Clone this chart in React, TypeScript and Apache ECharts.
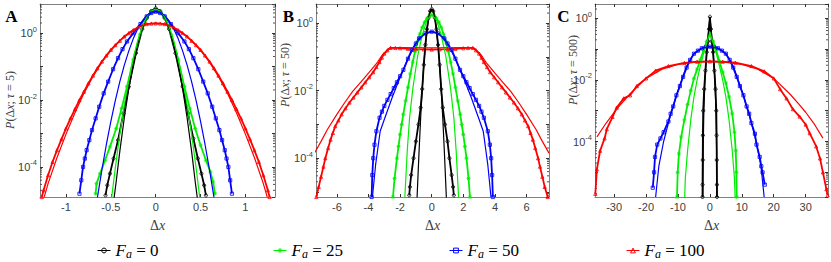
import React, { useEffect, useRef } from 'react';
import * as echarts from 'echarts';

type Pt = [number, number];

// ---------- names, colours ----------
const curveNames = ['F_a = 0', 'F_a = 25', 'F_a = 50', 'F_a = 100'];
const curveLabels = ['0', '25', '50', '100'];
const curveColors = ['#000000', '#00ee00', '#0000ff', '#ff0000'];
const curveSymbols = [
  'circle',
  'path://M5,0V10M0,5H10M1.5,1.5L8.5,8.5M8.5,1.5L1.5,8.5',
  'rect',
  'triangle',
];

// ---------- panel axes ----------
const panelLetters = ['A', 'B', 'C'];
const panelTau = ['5', '50', '500'];
const panelXMin = [-1.29, -7.32, -36];
const panelXMax = [1.33, 7.42, 37];
const panelXSplit = [5, 7, 7];
const panelYMin = [1.26e-5, 7.08e-6, 1.58e-6];
const panelYMax = [7.41, 3.72, 2.91];

// ---------- Panel A (tau = 5) ----------
const A_data0: Pt[] = [[-0.56,1.41e-5],[-0.54,2.82e-5],[-0.51,6.31e-5],[-0.47,1.78e-4],[-0.42,6.31e-4],[-0.36,3.98e-3],[-0.3,2.51e-2],[-0.22,0.251],[-0.15,1.32],[-0.1,2.82],[-0.05,4.57],[0,5.5],[0.05,4.57],[0.1,2.82],[0.15,1.32],[0.22,0.251],[0.3,2.51e-2],[0.36,3.98e-3],[0.42,7.08e-4],[0.47,1.78e-4],[0.51,6.31e-5],[0.54,2.82e-5],[0.56,1.41e-5]];
const A_data1: Pt[] = [[-0.67,1.58e-5],[-0.66,3.16e-5],[-0.62,6.31e-5],[-0.565,1.58e-4],[-0.51,3.98e-4],[-0.44,1.41e-3],[-0.38,5.62e-3],[-0.32,2.51e-2],[-0.25,0.158],[-0.175,0.891],[-0.1,2.82],[-0.05,4.47],[0,5.25],[0.05,4.47],[0.1,2.82],[0.175,0.891],[0.25,0.158],[0.32,2.51e-2],[0.38,5.62e-3],[0.44,1.41e-3],[0.5,4.47e-4],[0.56,1.58e-4],[0.61,7.08e-5],[0.64,3.55e-5],[0.66,1.58e-5]];
const A_data2: Pt[] = [[-0.85,1.58e-5],[-0.83,3.98e-5],[-0.81,1.0e-4],[-0.79,1.78e-4],[-0.77,3.16e-4],[-0.74,6.31e-4],[-0.71,1.26e-3],[-0.67,2.82e-3],[-0.63,6.31e-3],[-0.58,1.58e-2],[-0.53,3.55e-2],[-0.475,8.32e-2],[-0.42,0.178],[-0.37,0.331],[-0.32,0.562],[-0.25,1.0],[-0.17,1.86],[-0.1,3.16],[-0.05,3.98],[0,4.37],[0.05,3.98],[0.1,3.16],[0.17,1.86],[0.25,1.0],[0.32,0.562],[0.37,0.331],[0.42,0.178],[0.475,8.32e-2],[0.53,3.55e-2],[0.58,1.58e-2],[0.63,6.31e-3],[0.67,2.82e-3],[0.71,1.26e-3],[0.74,6.31e-4],[0.77,3.16e-4],[0.79,1.78e-4],[0.81,1.0e-4],[0.83,3.98e-5],[0.85,1.58e-5]];
const A_data3: Pt[] = [[-1.27,1.26e-5],[-1.25,2.0e-5],[-1.2,5.62e-5],[-1.15,1.41e-4],[-1.1,3.16e-4],[-1.05,6.76e-4],[-1.0,1.41e-3],[-0.95,2.82e-3],[-0.9,5.37e-3],[-0.85,1.0e-2],[-0.8,1.78e-2],[-0.75,3.16e-2],[-0.7,5.37e-2],[-0.65,8.91e-2],[-0.6,0.141],[-0.55,0.214],[-0.5,0.316],[-0.45,0.437],[-0.4,0.589],[-0.35,0.794],[-0.3,1.0],[-0.25,1.23],[-0.2,1.48],[-0.15,1.70],[-0.1,1.86],[-0.05,1.93],[0,1.95],[0.05,1.93],[0.1,1.86],[0.15,1.70],[0.2,1.48],[0.25,1.23],[0.3,1.0],[0.35,0.794],[0.4,0.589],[0.45,0.437],[0.5,0.316],[0.55,0.214],[0.6,0.141],[0.65,8.91e-2],[0.7,5.37e-2],[0.75,3.16e-2],[0.8,1.78e-2],[0.85,1.0e-2],[0.9,5.37e-3],[0.95,2.82e-3],[1.0,1.41e-3],[1.05,6.76e-4],[1.1,3.16e-4],[1.15,1.41e-4],[1.2,5.62e-5],[1.25,2.0e-5],[1.27,1.26e-5]];
const A_fit0: Pt[] = [[-0.465,1.12e-5],[-0.44,3.72e-5],[-0.4,2.95e-4],[-0.35,2.95e-3],[-0.3,2.19e-2],[-0.25,0.117],[-0.2,0.468],[-0.15,1.38],[-0.1,2.95],[-0.05,4.68],[0,5.5],[0.05,4.68],[0.1,2.95],[0.15,1.38],[0.2,0.468],[0.25,0.117],[0.3,2.19e-2],[0.35,2.95e-3],[0.4,2.95e-4],[0.44,3.72e-5],[0.465,1.12e-5]];
const A_fit1: Pt[] = [[-0.495,1.0e-5],[-0.45,9.55e-5],[-0.4,9.55e-4],[-0.35,7.08e-3],[-0.3,4.07e-2],[-0.25,0.182],[-0.2,0.603],[-0.15,1.55],[-0.1,3.09],[-0.05,4.57],[0,5.25],[0.05,4.57],[0.1,3.09],[0.15,1.55],[0.2,0.603],[0.25,0.182],[0.3,4.07e-2],[0.35,7.08e-3],[0.4,9.55e-4],[0.45,9.55e-5],[0.495,1.0e-5]];
const A_fit2: Pt[] = [[-0.65,1.2e-5],[-0.6,8.13e-5],[-0.55,4.68e-4],[-0.5,2.29e-3],[-0.45,9.77e-3],[-0.4,3.55e-2],[-0.35,0.110],[-0.3,0.295],[-0.25,0.684],[-0.2,1.35],[-0.15,2.31],[-0.1,3.39],[-0.05,4.24],[0,4.57],[0.05,4.24],[0.1,3.39],[0.15,2.31],[0.2,1.35],[0.25,0.684],[0.3,0.295],[0.35,0.110],[0.4,3.55e-2],[0.45,9.77e-3],[0.5,2.29e-3],[0.55,4.68e-4],[0.6,8.13e-5],[0.65,1.2e-5]];
const A_fit3: Pt[] = [[-1.245,1.2e-5],[-1.2,3.16e-5],[-1.1,1.91e-4],[-1.0,9.55e-4],[-0.9,4.17e-3],[-0.8,1.58e-2],[-0.7,5.01e-2],[-0.6,0.135],[-0.5,0.302],[-0.4,0.603],[-0.3,0.977],[-0.2,1.48],[-0.1,1.86],[0,2.0],[0.1,1.86],[0.2,1.48],[0.3,0.977],[0.4,0.603],[0.5,0.302],[0.6,0.135],[0.7,5.01e-2],[0.8,1.58e-2],[0.9,4.17e-3],[1.0,9.55e-4],[1.1,1.91e-4],[1.2,3.16e-5],[1.245,1.2e-5]];

// ---------- Panel B (tau = 50) ----------
const B_data0: Pt[] = [[-1.42,7.94e-6],[-1.38,1.41e-5],[-1.3,3.16e-5],[-1.15,1.0e-4],[-1.0,3.16e-4],[-0.84,1.0e-3],[-0.7,3.16e-3],[-0.6,1.12e-2],[-0.5,5.89e-2],[-0.4,0.229],[-0.3,0.661],[-0.2,1.45],[-0.1,2.29],[0,2.63],[0.1,2.29],[0.2,1.45],[0.3,0.661],[0.4,0.229],[0.5,5.89e-2],[0.6,1.12e-2],[0.7,3.16e-3],[0.84,1.0e-3],[1.0,3.16e-4],[1.12,1.0e-4],[1.26,3.16e-5],[1.35,1.41e-5],[1.4,7.94e-6]];
const B_data1: Pt[] = [[-2.45,7.08e-6],[-2.35,2.51e-5],[-2.2,1.0e-4],[-2.1,2.24e-4],[-2.0,5.01e-4],[-1.9,1.0e-3],[-1.8,2.0e-3],[-1.65,5.01e-3],[-1.5,1.26e-2],[-1.35,3.16e-2],[-1.2,7.08e-2],[-1.05,0.148],[-0.9,0.282],[-0.75,0.479],[-0.6,0.759],[-0.45,1.07],[-0.3,1.41],[-0.15,1.66],[0,1.78],[0.15,1.66],[0.3,1.41],[0.45,1.07],[0.6,0.759],[0.75,0.479],[0.9,0.282],[1.05,0.148],[1.2,7.08e-2],[1.35,3.16e-2],[1.5,1.26e-2],[1.65,5.01e-3],[1.8,2.0e-3],[1.9,1.0e-3],[2.0,5.01e-4],[2.1,2.24e-4],[2.2,1.0e-4],[2.33,2.51e-5],[2.42,7.08e-6]];
const B_data2: Pt[] = [[-3.8,7.08e-6],[-3.76,3.16e-5],[-3.7,1.0e-4],[-3.62,2.51e-4],[-3.5,6.31e-4],[-3.3,1.58e-3],[-3.15,2.4e-3],[-3.0,3.55e-3],[-2.8,5.37e-3],[-2.6,7.94e-3],[-2.4,1.2e-2],[-2.2,1.78e-2],[-2.0,2.69e-2],[-1.79,4.17e-2],[-1.5,8.91e-2],[-1.26,0.162],[-1.0,0.251],[-0.8,0.355],[-0.4,0.501],[0,0.562],[0.4,0.501],[0.8,0.355],[1.0,0.251],[1.26,0.162],[1.5,8.91e-2],[1.79,4.17e-2],[2.0,2.69e-2],[2.2,1.78e-2],[2.4,1.2e-2],[2.6,7.94e-3],[2.8,5.37e-3],[3.0,3.55e-3],[3.15,2.4e-3],[3.3,1.58e-3],[3.55,6.31e-4],[3.68,2.51e-4],[3.76,1.0e-4],[3.82,3.16e-5],[3.87,7.08e-6]];
const B_data3: Pt[] = [[-7.3,7.08e-6],[-7.15,1.41e-5],[-7.0,2.82e-5],[-6.85,5.62e-5],[-6.73,1.0e-4],[-6.55,2.0e-4],[-6.4,3.55e-4],[-6.25,5.62e-4],[-6.1,8.91e-4],[-5.9,1.32e-3],[-5.7,2.0e-3],[-5.45,3.02e-3],[-5.2,4.47e-3],[-4.95,6.31e-3],[-4.7,8.91e-3],[-4.45,1.26e-2],[-4.2,1.78e-2],[-3.95,2.51e-2],[-3.7,3.55e-2],[-3.5,5.01e-2],[-3.3,7.08e-2],[-3.15,9.55e-2],[-3.0,0.126],[-2.8,0.158],[-2.6,0.186],[-2.3,0.185],[-2.0,0.182],[-1.5,0.175],[-1.0,0.170],[-0.5,0.168],[0,0.166],[0.5,0.168],[1.0,0.170],[1.5,0.175],[2.0,0.182],[2.3,0.185],[2.6,0.186],[2.8,0.158],[3.0,0.126],[3.15,9.55e-2],[3.3,7.08e-2],[3.5,5.01e-2],[3.7,3.55e-2],[3.95,2.51e-2],[4.2,1.78e-2],[4.45,1.26e-2],[4.7,8.91e-3],[4.95,6.31e-3],[5.2,4.47e-3],[5.45,3.02e-3],[5.7,2.0e-3],[5.9,1.32e-3],[6.1,8.91e-4],[6.25,5.62e-4],[6.4,3.55e-4],[6.55,2.0e-4],[6.73,1.0e-4],[6.85,5.62e-5],[7.0,2.82e-5],[7.15,1.41e-5],[7.34,7.08e-6]];
const B_fit0: Pt[] = [[-0.93,6.31e-6],[-0.8,1.58e-4],[-0.7,1.55e-3],[-0.6,1.10e-2],[-0.5,5.89e-2],[-0.4,0.229],[-0.3,0.67],[-0.2,1.45],[-0.1,2.26],[0,2.63],[0.1,2.26],[0.2,1.45],[0.3,0.67],[0.4,0.229],[0.5,5.89e-2],[0.6,1.10e-2],[0.7,1.55e-3],[0.8,1.58e-4],[0.93,6.31e-6]];
const B_fit1: Pt[] = [[-1.7,6.92e-6],[-1.55,1.58e-4],[-1.4,1.58e-3],[-1.2,1.12e-2],[-0.9,0.1],[-0.6,0.447],[-0.3,1.26],[0,1.78],[0.3,1.26],[0.6,0.447],[0.9,0.1],[1.2,1.12e-2],[1.4,1.58e-3],[1.55,1.58e-4],[1.7,6.92e-6]];
const B_fit2: Pt[] = [[-3.75,7.08e-6],[-3.55,6.31e-5],[-3.26,6.31e-4],[-3.0,1.41e-3],[-2.5,6.31e-3],[-2.0,2.51e-2],[-1.5,8.91e-2],[-1.0,0.251],[-0.5,0.468],[0,0.575],[0.5,0.468],[1.0,0.251],[1.5,8.91e-2],[2.0,2.51e-2],[2.5,6.31e-3],[3.0,1.41e-3],[3.26,6.31e-4],[3.55,6.31e-5],[3.75,7.08e-6]];
const B_fit3: Pt[] = [[-7.42,1.41e-4],[-7.0,3.16e-4],[-6.6,7.08e-4],[-6.0,2.0e-3],[-5.5,4.47e-3],[-5.0,9.55e-3],[-4.5,1.78e-2],[-4.0,3.31e-2],[-3.5,6.31e-2],[-3.1,0.120],[-2.7,0.182],[-2.0,0.191],[0,0.186],[2.0,0.191],[2.7,0.182],[3.1,0.120],[3.5,6.31e-2],[4.0,3.31e-2],[4.5,1.78e-2],[5.0,9.55e-3],[5.5,4.47e-3],[6.0,2.0e-3],[6.6,7.08e-4],[7.0,3.16e-4],[7.42,1.41e-4]];

// ---------- Panel C (tau = 500) ----------
const C_data0: Pt[] = [[-2.32,1.58e-6],[-2.3,3.98e-6],[-2.25,2.51e-5],[-2.2,1.58e-4],[-2.1,1.0e-3],[-1.8,5.01e-3],[-1.4,2.0e-2],[-1.0,7.94e-2],[-0.6,0.178],[-0.3,0.447],[0,1.12],[0.3,0.447],[0.6,0.178],[1.0,7.94e-2],[1.4,2.0e-2],[1.75,5.01e-3],[2.0,1.0e-3],[2.1,1.58e-4],[2.15,2.51e-5],[2.2,3.98e-6],[2.22,1.58e-6]];
const C_data1: Pt[] = [[-10.3,1.58e-6],[-10.1,1.0e-5],[-9.7,3.98e-5],[-9.0,1.41e-4],[-8.0,5.01e-4],[-7.0,1.58e-3],[-6.0,4.47e-3],[-5.0,1.12e-2],[-4.0,2.24e-2],[-3.0,4.47e-2],[-2.0,8.91e-2],[-1.0,0.178],[0,0.324],[1.0,0.178],[2.0,8.91e-2],[3.0,3.98e-2],[4.0,1.78e-2],[5.0,7.94e-3],[6.0,2.82e-3],[7.0,7.94e-4],[7.7,2.0e-4],[8.1,5.01e-5],[8.3,1.0e-5],[8.4,1.58e-6]];
const C_data2: Pt[] = [[-17.9,3.16e-6],[-17.5,1.0e-5],[-17.2,3.16e-5],[-16.5,7.94e-5],[-15.5,1.26e-4],[-14.5,2.0e-4],[-13.0,4.47e-4],[-12.3,7.94e-4],[-11.5,1.38e-3],[-10.5,3.16e-3],[-9.4,6.31e-3],[-8.4,1.26e-2],[-7.3,2.51e-2],[-6.2,4.47e-2],[-5.0,7.08e-2],[-3.75,8.91e-2],[-2.5,0.107],[-1.25,0.117],[0,0.120],[1.25,0.117],[2.5,0.107],[3.75,8.91e-2],[5.0,7.08e-2],[6.2,4.47e-2],[7.3,2.51e-2],[8.4,1.26e-2],[9.4,6.31e-3],[10.5,3.16e-3],[11.5,1.38e-3],[12.3,7.94e-4],[13.0,3.98e-4],[14.1,1.78e-4],[14.6,7.94e-5],[15.6,3.16e-5],[16.1,1.58e-5],[16.5,1.0e-5],[17.2,3.98e-6]];
const C_data3: Pt[] = [[-35.9,2.0e-6],[-35.4,1.26e-5],[-34.4,5.01e-5],[-33.0,1.26e-4],[-32.3,2.51e-4],[-30.5,6.31e-4],[-29.2,1.26e-3],[-27.0,2.51e-3],[-25.0,3.16e-3],[-22.9,6.31e-3],[-20.0,1.12e-2],[-17.0,2.0e-2],[-13.0,2.82e-2],[-8.0,3.55e-2],[-4.0,3.89e-2],[0,3.98e-2],[4.0,3.89e-2],[8.0,3.63e-2],[13.0,2.82e-2],[17.0,1.91e-2],[20.0,1.12e-2],[22.0,5.01e-3],[24.0,2.51e-3],[26.0,1.12e-3],[28.1,6.46e-4],[30.0,3.55e-4],[31.25,1.86e-4],[33.3,6.92e-5],[34.5,2.82e-5],[35.4,1.0e-5],[36.5,2.82e-6],[36.9,1.78e-6]];
const C_fit0: Pt[] = [[-2.2,1.58e-6],[-2.1,6.31e-5],[-1.9,1.0e-3],[-1.5,1.26e-2],[-1.0,7.94e-2],[-0.5,0.316],[0,1.07],[0.5,0.316],[1.0,7.94e-2],[1.5,1.26e-2],[1.9,1.0e-3],[2.1,6.31e-5],[2.2,1.58e-6]];
const C_fit1: Pt[] = [[-7.9,1.58e-6],[-7.7,6.31e-6],[-7.0,5.01e-5],[-6.0,5.01e-4],[-5.0,2.82e-3],[-4.0,1.0e-2],[-3.0,2.82e-2],[-2.0,7.08e-2],[-1.0,0.158],[0,0.339],[1.0,0.158],[2.0,7.08e-2],[3.0,2.82e-2],[4.0,1.0e-2],[5.0,2.82e-3],[6.0,5.01e-4],[7.0,5.01e-5],[7.7,6.31e-6],[7.9,1.58e-6]];
const C_fit2: Pt[] = [[-17.0,1.58e-6],[-16.0,1.58e-5],[-14.5,1.0e-4],[-12.5,6.31e-4],[-10.0,4.47e-3],[-7.5,2.51e-2],[-5.0,7.08e-2],[-2.5,0.107],[0,0.120],[2.5,0.107],[5.0,7.08e-2],[7.5,2.51e-2],[10.0,4.47e-3],[12.5,6.31e-4],[14.5,1.0e-4],[16.0,1.58e-5],[17.0,1.58e-6]];
const C_fit3: Pt[] = [[-35.4,1.41e-4],[-32.5,3.98e-4],[-30.0,8.91e-4],[-28.0,1.58e-3],[-25.0,3.55e-3],[-20.0,1.12e-2],[-15.0,2.24e-2],[-10.0,3.16e-2],[-5.0,3.72e-2],[0,3.98e-2],[5.0,3.72e-2],[10.0,3.16e-2],[15.0,2.24e-2],[20.0,1.12e-2],[25.0,3.55e-3],[28.0,1.58e-3],[30.0,8.91e-4],[32.5,3.98e-4],[35.4,1.29e-4]];

const panelData: Pt[][][] = [
  [A_data0, A_data1, A_data2, A_data3],
  [B_data0, B_data1, B_data2, B_data3],
  [C_data0, C_data1, C_data2, C_data3],
];
const panelFits: Pt[][][] = [
  [A_fit0, A_fit1, A_fit2, A_fit3],
  [B_fit0, B_fit1, B_fit2, B_fit3],
  [C_fit0, C_fit1, C_fit2, C_fit3],
];

// minor log ticks (mantissas x decades)
const minorMantissas = [2, 3, 4, 5, 6, 7, 8, 9];
const minorDecades = [1e-6, 1e-5, 1e-4, 1e-3, 1e-2, 1e-1, 1];

// ---------- layout ----------
const gridLeft = [40, 316, 595];
const gridWidth = [235, 233, 233];
const gridTop = 4;
const gridHeight = 193;
const yLabelPos: [number, number][] = [[10, 100], [285, 75], [573, 70]];
const letterPos: [number, number][] = [[11.5, 16], [288.5, 16], [563.5, 16]];
const legendLeft = [92, 268, 444, 621];

const BOX = '#808080';
const LABEL = '#404040';
const SERIF = 'serif';
const SANS = 'Arial';

export default function App() {
  const ref = useRef<HTMLDivElement>(null);

  useEffect(() => {
    document.body.style.margin = '0';
    if (!ref.current) return;
    const chart = echarts.init(ref.current, null, { renderer: 'svg' });

    const minorValues: number[] = [];
    minorDecades.forEach((d) => minorMantissas.forEach((m) => minorValues.push(m * d)));

    const grids: any[] = [];
    const xAxes: any[] = [];
    const yAxes: any[] = [];
    const series: any[] = [];
    const graphics: any[] = [];

    for (let p = 0; p < 3; p++) {
      grids.push({ left: gridLeft[p], top: gridTop, width: gridWidth[p], height: gridHeight });
      const xBase = {
        type: 'value',
        gridIndex: p,
        min: panelXMin[p],
        max: panelXMax[p],
        splitNumber: panelXSplit[p],
        splitLine: { show: false },
        axisLine: { show: true, onZero: false, lineStyle: { color: BOX, width: 1 } },
        axisTick: { show: true, inside: true, length: 3, lineStyle: { color: '#303030', width: 1 } },
      };
      xAxes.push({
        ...xBase,
        position: 'bottom',
        axisLabel: {
          show: true,
          margin: 4,
          color: LABEL,
          fontFamily: SANS,
          fontSize: 11,
          showMinLabel: false,
          showMaxLabel: false,
        },
        name: '{n|Δ}{i|x}',
        nameLocation: 'middle',
        nameGap: 21,
        nameTextStyle: {
          fontFamily: SERIF,
          fontSize: 14,
          color: LABEL,
          rich: {
            n: { fontFamily: SERIF, fontSize: 14, color: LABEL },
            i: { fontFamily: SERIF, fontSize: 14, fontStyle: 'italic', color: LABEL },
          },
        },
      });
      xAxes.push({ ...xBase, position: 'top', axisLabel: { show: false } });

      const yBase = {
        type: 'log',
        logBase: 10,
        gridIndex: p,
        min: panelYMin[p],
        max: panelYMax[p],
        splitLine: { show: false },
        axisLine: { show: true, onZero: false, lineStyle: { color: BOX, width: 1 } },
        axisTick: { show: true, inside: true, length: 3, lineStyle: { color: '#303030', width: 1 } },
      };
      yAxes.push({
        ...yBase,
        position: 'left',
        axisLabel: {
          show: true,
          margin: 3,
          showMinLabel: false,
          showMaxLabel: false,
          formatter: (v: number) => {
            const lg = Math.log10(v);
            const e = Math.round(lg);
            if (Math.abs(lg - e) > 1e-6 || e % 2 !== 0) return '';
            return `{b|10}{e|${e}}`;
          },
          rich: {
            b: { fontFamily: SANS, fontSize: 11, color: LABEL },
            e: { fontFamily: SANS, fontSize: 7.5, color: LABEL, padding: [0, 0, 8, 0] },
          },
        },
      });
      yAxes.push({ ...yBase, position: 'right', axisLabel: { show: false } });

      // data series
      for (let k = 0; k < 4; k++) {
        series.push({
          type: 'line',
          name: curveNames[k],
          xAxisIndex: 2 * p,
          yAxisIndex: 2 * p,
          data: panelData[p][k],
          symbol: curveSymbols[k],
          symbolSize: k === 1 ? 4 : 3.2,
          showSymbol: true,
          lineStyle: { color: curveColors[k], width: 1.8 },
          itemStyle: { color: 'rgba(255,255,255,0)', borderColor: curveColors[k], borderWidth: 0.8 },
          emphasis: { disabled: true },
          silent: true,
          z: 2,
        });
      }
      // fit series
      for (let k = 0; k < 4; k++) {
        series.push({
          type: 'line',
          name: 'fit ' + curveNames[k],
          xAxisIndex: 2 * p,
          yAxisIndex: 2 * p,
          data: panelFits[p][k],
          symbol: 'none',
          showSymbol: false,
          lineStyle: { color: curveColors[k], width: 1.2 },
          emphasis: { disabled: true },
          silent: true,
          z: 3,
        });
      }
      // minor log ticks
      const xmin = panelXMin[p];
      const xmax = panelXMax[p];
      const ymin = panelYMin[p];
      const ymax = panelYMax[p];
      series.push({
        type: 'custom',
        name: 'minor ticks ' + p,
        xAxisIndex: 2 * p,
        yAxisIndex: 2 * p,
        silent: true,
        z: 1,
        data: minorValues.map((v) => [xmin, v]),
        renderItem: (_params: any, api: any) => {
          const v = api.value(1);
          if (v < ymin || v > ymax) return null;
          const pl = api.coord([xmin, v]);
          const pr = api.coord([xmax, v]);
          return {
            type: 'group',
            children: [
              { type: 'line', shape: { x1: pl[0], y1: pl[1], x2: pl[0] + 2, y2: pl[1] }, style: { stroke: '#505050', lineWidth: 1 } },
              { type: 'line', shape: { x1: pr[0] - 2, y1: pr[1], x2: pr[0], y2: pr[1] }, style: { stroke: '#505050', lineWidth: 1 } },
            ],
          };
        },
      });

      graphics.push({
        type: 'text',
        x: yLabelPos[p][0],
        y: yLabelPos[p][1],
        rotation: Math.PI / 2,
        style: {
          text: `{i|P}{n|(Δ}{i|x}{n|; }{i|τ}{n| = ${panelTau[p]})}`,
          align: 'center',
          verticalAlign: 'middle',
          fontFamily: SERIF,
          fontSize: 12,
          fill: LABEL,
          rich: {
            i: { fontFamily: SERIF, fontSize: 12, fontStyle: 'italic', fill: LABEL },
            n: { fontFamily: SERIF, fontSize: 12, fill: LABEL },
          },
        },
      });
      graphics.push({
        type: 'text',
        x: letterPos[p][0],
        y: letterPos[p][1],
        style: {
          text: panelLetters[p],
          fontFamily: SERIF,
          fontWeight: 'bold',
          fontSize: 17,
          fill: '#000',
          align: 'center',
          verticalAlign: 'middle',
        },
      });
    }

    const legends = curveNames.map((nm, i) => ({
      data: [nm],
      left: legendLeft[i],
      top: 237,
      orient: 'horizontal',
      itemWidth: 13,
      itemHeight: 6,
      itemGap: 0,
      selectedMode: false,
      lineStyle: { width: 1 },
      itemStyle: { borderWidth: 1 },
      formatter: (name: string) => {
        const idx = curveNames.indexOf(name);
        return `{f|F}{s|a}{n| = ${curveLabels[idx]}}`;
      },
      textStyle: {
        fontFamily: SERIF,
        fontSize: 17,
        color: '#000',
        rich: {
          f: { fontFamily: SERIF, fontStyle: 'italic', fontSize: 17, color: '#000' },
          s: { fontFamily: SERIF, fontStyle: 'italic', fontSize: 12, color: '#000', padding: [7, 0, 0, 0] },
          n: { fontFamily: SERIF, fontSize: 17, color: '#000' },
        },
      },
    }));

    chart.setOption({
      animation: false,
      backgroundColor: '#ffffff',
      grid: grids,
      xAxis: xAxes,
      yAxis: yAxes,
      legend: legends,
      series,
      graphic: graphics,
    });

    return () => chart.dispose();
  }, []);

  return <div ref={ref} style={{ width: 831, height: 262 }} />;
}
